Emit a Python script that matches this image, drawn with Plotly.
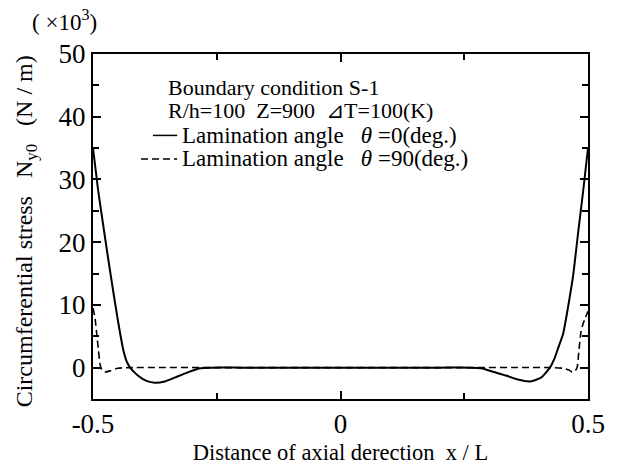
import plotly.graph_objects as go

# Solid: lamination angle theta = 0 deg
x_solid = [-0.5, -0.49, -0.479, -0.469, -0.459, -0.449, -0.439, -0.432, -0.425, -0.41, -0.392,
           -0.375, -0.355, -0.335, -0.31, -0.284, -0.26, -0.2, -0.1, 0.0, 0.1, 0.2, 0.26,
           0.284, 0.31, 0.336, 0.358, 0.383, 0.405, 0.423, 0.432, 0.44, 0.45, 0.46, 0.47,
           0.48, 0.49, 0.5]
y_solid = [35.0, 28.5, 22.5, 17.2, 12.1, 7.2, 2.9, 1.0, 0.0, -1.2, -2.1,
           -2.4, -2.2, -1.6, -0.8, -0.1, 0.0, 0.0, 0.0, 0.0, 0.0, 0.0, 0.0,
           -0.1, -0.7, -1.3, -1.9, -2.2, -1.6, 0.0, 1.4, 3.2, 5.5, 9.8, 14.7,
           21.5, 28.0, 35.0]

# Dashed: lamination angle theta = 90 deg
x_dash = [-0.5, -0.496, -0.492, -0.489, -0.486, -0.482, -0.475, -0.465, -0.45, -0.43,
          -0.2, 0.0, 0.2, 0.43, 0.45, 0.462, 0.468, 0.474, 0.478, 0.482, 0.486,
          0.49, 0.495, 0.5]
y_dash = [9.5, 8.0, 5.0, 2.8, 0.6, -0.4, -0.7, -0.5, -0.1, 0.0,
          0.0, 0.0, 0.0, 0.0, -0.1, -0.4, -0.7, -0.5, 0.0, 3.0, 5.8,
          7.0, 8.0, 9.0]

x_tickvals = [-0.5, 0, 0.5]
x_ticktext = ["-0.5", "0", "0.5"]
y_tickvals = [0, 10, 20, 30, 40, 50]
y_ticktext = ["0", "10", "20", "30", "40", "50"]

FONT = "Liberation Serif, Times New Roman, serif"

fig = go.Figure()
fig.add_trace(go.Scatter(x=x_solid, y=y_solid, mode="lines",
                         line=dict(color="black", width=2, shape="spline", smoothing=0.6),
                         showlegend=False))
fig.add_trace(go.Scatter(x=x_dash, y=y_dash, mode="lines",
                         line=dict(color="black", width=1.6, dash="7px,4px", shape="spline", smoothing=0.4),
                         showlegend=False))

axis_common = dict(showline=True, linecolor="black", linewidth=2, mirror="ticks",
                   ticks="inside", tickcolor="black", tickwidth=1.5, ticklen=8,
                   showgrid=False, zeroline=False,
                   tickfont=dict(family=FONT, size=27, color="black"))

fig.update_xaxes(range=[-0.5, 0.5], tickmode="array", tickvals=x_tickvals, ticktext=x_ticktext,
                 minor=dict(tickmode="array", tickvals=[-0.25, 0.25], ticks="inside", ticklen=6,
                            tickcolor="black", tickwidth=1.5),
                 title=dict(text="Distance of axial derection  x / L",
                            font=dict(family=FONT, size=22.5, color="black"), standoff=6),
                 **axis_common)
fig.update_yaxes(range=[-5, 50], tickmode="array", tickvals=y_tickvals, ticktext=y_ticktext,
                 minor=dict(tickmode="array", tickvals=[-5, 5, 15, 25, 35, 45], ticks="inside",
                            ticklen=6, tickcolor="black", tickwidth=1.5),
                 **axis_common)

ann_font = dict(family=FONT, size=22, color="black")
leg_font = dict(family=FONT, size=23, color="black")
anns = [
    dict(text="( ×10<sup>3</sup>)", x=-0.127, y=1.097, xanchor="left", yanchor="middle",
         font=dict(family=FONT, size=23, color="black")),
    dict(text="Circumferential stress   N<sub>y0</sub>   (N / m)", x=-0.1354, y=0.486,
         xanchor="center", yanchor="middle", textangle=-90,
         font=dict(family=FONT, size=24, color="black")),
    dict(text="Boundary condition S-1", x=0.1475, y=0.9034, xanchor="left", yanchor="middle", font=ann_font),
    dict(text="R/h=100  Z=900  ⊿T=100(K)", x=0.1475, y=0.835, xanchor="left", yanchor="middle", font=ann_font),
    dict(text="Lamination angle   <i>θ</i> =0(deg.)", x=0.1758, y=0.764, xanchor="left", yanchor="middle", font=leg_font),
    dict(text="Lamination angle   <i>θ</i> =90(deg.)", x=0.1758, y=0.696, xanchor="left", yanchor="middle", font=leg_font),
]
for a in anns:
    fig.add_annotation(xref="paper", yref="paper", showarrow=False, **a)

fig.add_shape(type="line", xref="paper", yref="paper", x0=0.121, x1=0.170, y0=0.764, y1=0.764,
              line=dict(color="black", width=1.5))
fig.add_shape(type="line", xref="paper", yref="paper", x0=0.097, x1=0.170, y0=0.696, y1=0.696,
              line=dict(color="black", width=1.5, dash="7px,4px"))

fig.update_layout(width=619, height=473, margin=dict(l=93, r=31, t=54, b=67),
                  paper_bgcolor="white", plot_bgcolor="white",
                  font=dict(family=FONT, color="black"))

fig.write_html("out.html")
